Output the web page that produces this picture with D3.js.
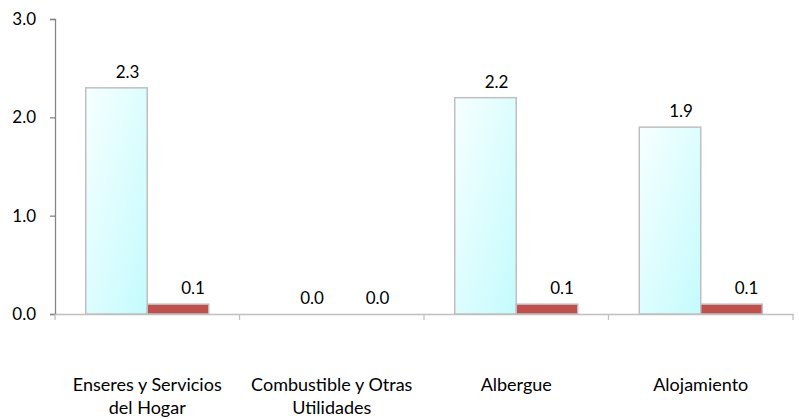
<!DOCTYPE html>
<html><head><meta charset="utf-8">
<script src="https://cdn.jsdelivr.net/npm/d3@7"></script>
<style>body{margin:0;background:#fff}svg{display:block}text{font-family:Lato,"Open Sans",sans-serif;fill:#000}</style>
</head><body><svg id="c" width="799" height="419"></svg>
<script>
const categories = [["Enseres y Servicios","del Hogar"],["Combustible y Otras","Utilidades"],["Albergue"],["Alojamiento"]];
const series1 = [2.3, 0.0, 2.2, 1.9];
const series2 = [0.1, 0.0, 0.1, 0.1];
const yTicks = [0, 1, 2, 3];

const svg = d3.select("#c");
const m = {l:55, r:6, t:19, b:105};
const W = 799, H = 419;
const x = d3.scaleBand().domain(d3.range(categories.length)).range([m.l, W - m.r]).paddingInner(0).paddingOuter(0);
const xs = d3.scaleBand().domain([0,1]).range([0, x.bandwidth()]).paddingInner(0).paddingOuter(0.5);
const y = d3.scaleLinear().domain([0,3]).range([H - m.b, m.t]);

const defs = svg.append("defs");
const g = defs.append("linearGradient").attr("id","lg").attr("x1","0").attr("y1","0").attr("x2","1").attr("y2","1");
g.append("stop").attr("offset","0").attr("stop-color","#f7ffff");
g.append("stop").attr("offset","1").attr("stop-color","#c4fbfd");

// y axis
const ya = svg.append("g").attr("transform",`translate(${m.l},0)`)
  .call(d3.axisLeft(y).tickValues(yTicks).tickFormat(d3.format(".1f")).tickSize(5).tickPadding(14));
ya.select(".domain").attr("stroke","#868686").attr("stroke-width",1.3);
ya.selectAll(".tick line").attr("stroke","#868686").attr("stroke-width",1.3);
ya.selectAll(".tick text").style("font-size","17px").attr("fill","#000");

// x axis
const xa = svg.append("g").attr("transform",`translate(0,${y(0)})`)
  .call(d3.axisBottom(x).tickSize(0).tickFormat(""));
xa.select(".domain").attr("stroke","#c0c0c0").attr("stroke-width",1.3);
const bounds = d3.range(categories.length+1).map(i => i < categories.length ? x(i) : x(i-1)+x.bandwidth());
xa.selectAll(".sep").data(bounds).join("line").attr("class","sep")
  .attr("x1",d=>d).attr("x2",d=>d).attr("y1",0).attr("y2",6)
  .attr("stroke","#c0c0c0").attr("stroke-width",1.3);

// bars
const bars = svg.append("g");
[series1, series2].forEach((s, si) => {
  bars.selectAll(".b"+si).data(s).join("rect").attr("class","b"+si)
    .attr("x",(d,i)=>x(i)+xs(si))
    .attr("y",d=>y(d))
    .attr("width",xs.bandwidth())
    .attr("height",d=>y(0)-y(d))
    .attr("fill", si===0 ? "url(#lg)" : "#c0504d")
    .attr("stroke","#bfbfbf").attr("stroke-width",1.5);
  bars.selectAll(".l"+si).data(s).join("text").attr("class","l"+si)
    .attr("x",(d,i)=>x(i)+xs(si)+xs.bandwidth()/2+(si===0?11:15))
    .attr("y",d=>y(d)-10)
    .attr("text-anchor","middle").style("font-size","17px")
    .text(d=>d3.format(".1f")(d));
});

// category labels
const cl = svg.append("g");
categories.forEach((lines,i) => {
  const t = cl.append("text").attr("x", x(i)+x.bandwidth()/2).attr("y", 391)
    .attr("text-anchor","middle").style("font-size","18px");
  lines.forEach((ln,j)=>t.append("tspan").attr("x", x(i)+x.bandwidth()/2).attr("dy", j===0?0:23).text(ln));
});
</script></body></html>
